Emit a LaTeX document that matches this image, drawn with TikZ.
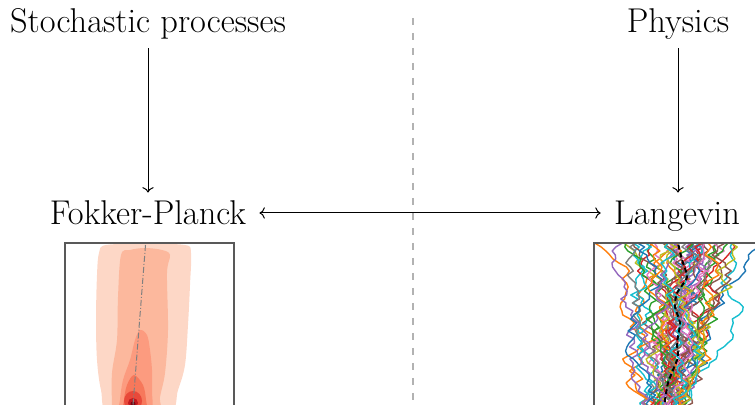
\documentclass[tikz,border=0pt]{standalone}
\usetikzlibrary{arrows.meta}
\definecolor{fpA}{HTML}{FDD7C6}
\definecolor{fpB}{HTML}{FCB89D}
\definecolor{fpC}{HTML}{FC9B7F}
\definecolor{fpD}{HTML}{F7785B}
\definecolor{fpE}{HTML}{E8493A}
\definecolor{fpF}{HTML}{C1181E}
\definecolor{fpG}{HTML}{7A0510}
\definecolor{tabblue}{HTML}{1F77B4}
\definecolor{taborange}{HTML}{FF7F0E}
\definecolor{tabgreen}{HTML}{2CA02C}
\definecolor{tabred}{HTML}{D62728}
\definecolor{tabpurple}{HTML}{9467BD}
\definecolor{tabbrown}{HTML}{8C564B}
\definecolor{tabpink}{HTML}{E377C2}
\definecolor{tabgray}{HTML}{7F7F7F}
\definecolor{tabolive}{HTML}{BCBD22}
\definecolor{tabcyan}{HTML}{17BECF}

\begin{document}
\begin{tikzpicture}[
  x=0.5pt, y=0.5pt,
  topic/.style={font=\fontsize{17.2}{20}\selectfont, text height=11pt, text depth=2.5pt,
    inner xsep=6.5pt, inner ysep=5pt, anchor=base},
  arr/.style={->, line width=0.5pt},
  divider/.style={gray!60, line width=0.8pt, dash pattern=on 3.5pt off 4pt},
  frame/.style={black!65, line width=0.8pt},
  band/.style={smooth cycle, tension=0.55},
  walk/.style={line width=0.7pt, line join=round},
]
  \useasboundingbox (0,0) rectangle (755,405);

  % titles and methods
  \node[topic] (stoch) at (148,372) {Stochastic processes};
  \node[topic] (phys)  at (678,372) {Physics};
  \node[topic] (fp)    at (148,180) {Fokker-Planck};
  \node[topic] (lang)  at (677,180) {Langevin};

  \draw[arr] (stoch) -- (fp);
  \draw[arr] (phys) -- (phys |- lang.north);
  \draw[arr, <->] ([yshift=1.75pt]fp.east) -- ([yshift=1.75pt]lang.west);

  \draw[divider] (413,387) -- (413,0);

  % density plot
  \begin{scope}
    \clip (65,0) rectangle (234,162);
    \fill[fpA] plot[band] coordinates {(110,-10) (101,15) (97,45) (96,85) (97,130)
      (99,152) (106,160) (145,161) (185,160) (191,152) (190,120) (188,80)
      (185,40) (178,15) (168,-10)};
    \fill[fpB] plot[band] coordinates {(113,-10) (112,0) (112,32) (117,65) (118,108)
      (121,150) (130,155) (145,157) (162,155) (170,150) (167,132) (168,75)
      (165,32) (160,8) (158,-10)};
    \fill[fpC] plot[band] coordinates {(120,-10) (120,5) (123,25) (130,45) (135,65)
      (140,75) (147,70) (150,55) (152,35) (152,15) (150,-10)};
    \fill[fpD] plot[band] coordinates {(124,-10) (124,5) (127,20) (134,30) (143,20)
      (146,5) (146,-10)};
    \fill[fpE] (133,4) ellipse [x radius=9, y radius=10];
    \fill[fpF] (133,2) circle [radius=5];
    \fill[fpG] (133,1) circle [radius=2.5];
    \draw[gray, line width=0.5pt, dash pattern=on 3pt off 1pt on 0.5pt off 1pt]
      (145.5,160) -- (133,0);
  \end{scope}
  \draw[frame] (65,-5) -- (65,162) -- (234,162) -- (234,-5);

  % sample paths
  \begin{scope}
    \clip (594,0) rectangle (760,162);
    \pgfmathsetseed{42}
    \foreach \rep in {1,...,5}{
      \foreach \col in {tabblue,taborange,tabgreen,tabred,tabpurple,
                        tabbrown,tabpink,tabgray,tabolive,tabcyan}{
        \draw[walk, \col] (663,-30)
          \foreach \k in {1,...,50}{ -- ++({8*rand+0.3},4) };
      }
    }
    \draw[black, line width=1pt, dash pattern=on 2.5pt off 1.5pt]
      plot[smooth, tension=0.4] coordinates {(664,-5) (665,5) (668,22) (673,35)
      (678,48) (677,62) (680,82) (675,98) (677,112) (687,128) (682,145) (678,162)};
  \end{scope}
  \draw[frame] (594,-5) -- (594,162) -- (760,162);
\end{tikzpicture}
\end{document}
